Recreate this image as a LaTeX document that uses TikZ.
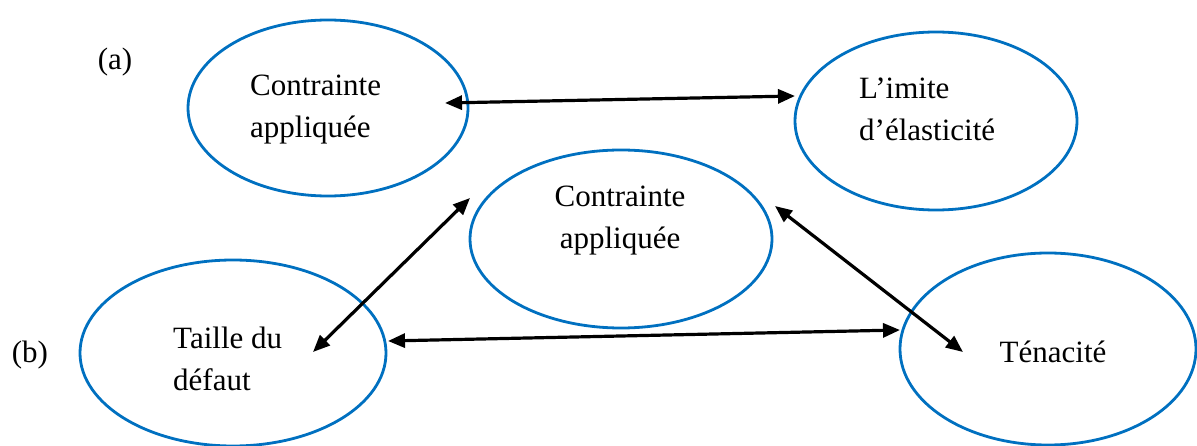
\documentclass[tikz,border=0pt]{standalone}
\usepackage{fontspec}
\setmainfont{Liberation Serif}
\usetikzlibrary{shapes.geometric,arrows.meta}
\definecolor{ringblue}{RGB}{0,112,192}
\begin{document}
\begin{tikzpicture}[x=1pt,y=-1pt,
  ring/.style={ellipse,draw=ringblue,line width=2.8pt,inner sep=0pt},
  lbl/.style={font=\fontsize{31}{42}\selectfont,inner sep=0pt},
  biarrow/.style={line width=3.2pt,{Triangle[length=17pt,width=14pt]}-{Triangle[length=17pt,width=14pt]}}]
\useasboundingbox (0,0) rectangle (1197,446);

% ellipses
\node[ring,minimum width=280pt,minimum height=176pt] (e1) at (328,108) {};
\node[ring,minimum width=282pt,minimum height=178pt] (e2) at (936,121) {};
\node[ring,minimum width=302pt,minimum height=178pt] (e3) at (621,239) {};
\node[ring,minimum width=306pt,minimum height=186pt] (e4) at (233,353) {};
\node[ring,minimum width=296pt,minimum height=192pt] (e5) at (1048,349) {};

% texts
\node[lbl,align=left,anchor=west] (t1) at (250,110) {Contrainte\\appliquée};
\node[lbl,align=left,anchor=west] (t2) at (859,109) {L’imite\\d’élasticité};
\node[lbl,align=center] (t3) at (620,221) {Contrainte\\appliquée};
\node[lbl,align=left,anchor=west] (t4) at (173,359) {Taille du\\défaut};
\node[lbl] (t5) at (1053,352) {Ténacité};
\node[lbl] (la) at (115,62) {(a)};
\node[lbl] (lb) at (30,355) {(b)};

% free ends of the connectors
\coordinate (p1) at (445,103);
\coordinate (p2) at (795,96);
\coordinate (p3) at (313,352);
\coordinate (p4) at (470,198);
\coordinate (p5) at (775,206);
\coordinate (p6) at (963,352);
\coordinate (p7) at (388,341);
\coordinate (p8) at (900,330);

% connectors
\draw[biarrow] (p1) -- (p2);
\draw[biarrow] (p3) -- (p4);
\draw[biarrow] (p5) -- (p6);
\draw[biarrow] (p7) -- (p8);
\end{tikzpicture}
\end{document}
